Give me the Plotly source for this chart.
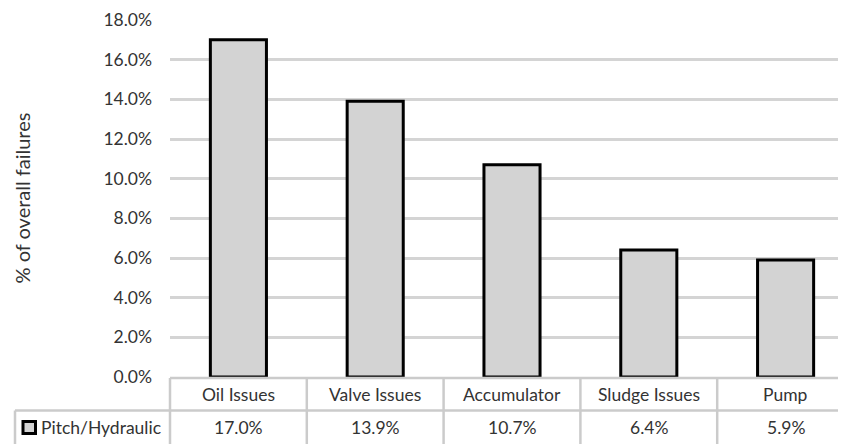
import plotly.graph_objects as go

categories = ["Oil Issues", "Valve Issues", "Accumulator", "Sludge Issues", "Pump"]
values = [17.0, 13.9, 10.7, 6.4, 5.9]
series_name = "Pitch/Hydraulic"
y_title = "% of overall failures"

OFF = 8  # default page body margin
W, H = 846 - OFF, 444 - OFF
L, R, T, B = 170 - OFF, 0, 20 - OFF, 67
plot_h = H - T - B
plot_w = W - L - R

def py(p):  # screen pixel y -> paper y
    return (H - B - (p - OFF)) / plot_h

def px(p):  # screen pixel x -> paper x
    return (p - OFF - L) / plot_w

FONT = "Lato"
TXT = "#333333"
GRID = "#d4d4d4"
TBL = "#cbcbcb"
FS = 17.5

fig = go.Figure()
fig.add_trace(go.Bar(
    x=list(range(len(categories))), y=values, name=series_name,
    width=0.41,
    marker=dict(color="#d3d3d3", line=dict(color="#000000", width=3)),
    showlegend=False, hoverinfo="skip",
))

shapes = []
annotations = []

# table horizontal lines
shapes.append(dict(type="line", xref="paper", yref="paper", x0=0, x1=1.05,
                   y0=py(378), y1=py(378), line=dict(color=TBL, width=2.5)))
shapes.append(dict(type="line", xref="paper", yref="paper", x0=px(15), x1=1.05,
                   y0=py(410.5), y1=py(410.5), line=dict(color=TBL, width=2.5)))
# left borders
shapes.append(dict(type="line", xref="paper", yref="paper", x0=0, x1=0,
                   y0=py(378), y1=py(450), line=dict(color=TBL, width=2.5)))
shapes.append(dict(type="line", xref="paper", yref="paper", x0=px(15), x1=px(15),
                   y0=py(410.5), y1=py(450), line=dict(color=TBL, width=2.5)))
# column dividers between categories
for i in range(1, len(categories)):
    shapes.append(dict(type="line", xref="x", yref="paper", x0=i - 0.5, x1=i - 0.5,
                       y0=py(378), y1=py(450), line=dict(color=TBL, width=2.5)))

# legend key
shapes.append(dict(type="rect", xref="paper", yref="paper",
                   x0=px(23), x1=px(35.5), y0=py(433.5), y1=py(421.5),
                   fillcolor="#d3d3d3", line=dict(color="#000000", width=3)))
annotations.append(dict(xref="paper", yref="paper", x=px(39), y=py(427.5),
                        text=series_name, showarrow=False, xanchor="left", yanchor="middle",
                        font=dict(family=FONT, size=FS, color=TXT)))

for i, (c, v) in enumerate(zip(categories, values)):
    annotations.append(dict(xref="x", yref="paper", x=i, y=py(394.5), text=c,
                            showarrow=False, xanchor="center", yanchor="middle",
                            font=dict(family=FONT, size=FS, color=TXT)))
    annotations.append(dict(xref="x", yref="paper", x=i, y=py(427.5), text=f"{v:.1f}%",
                            showarrow=False, xanchor="center", yanchor="middle",
                            font=dict(family=FONT, size=FS, color=TXT)))

annotations.append(dict(xref="paper", yref="paper", x=px(21), y=py(198.5), text=y_title,
                        textangle=-90, showarrow=False, xanchor="center", yanchor="middle",
                        font=dict(family=FONT, size=20, color=TXT)))

fig.update_layout(
    width=W, height=H,
    margin=dict(l=L, r=R, t=T, b=B, pad=0),
    paper_bgcolor="white", plot_bgcolor="white",
    shapes=shapes, annotations=annotations,
    font=dict(family=FONT, color=TXT),
)
plot_span = plot_w / 136.8
fig.update_xaxes(range=[-0.5, -0.5 + plot_span], showticklabels=False, showgrid=False,
                 zeroline=False, showline=False, ticks="")
fig.update_yaxes(range=[0, 18], dtick=2, tick0=0, tickformat=".1f", ticksuffix="%",
                 showgrid=True, gridcolor=GRID, gridwidth=2.5, zeroline=False,
                 showline=False, ticks="", ticklabelstandoff=17,
                 tickfont=dict(family=FONT, size=FS, color=TXT))

fig.write_html("out.html")
